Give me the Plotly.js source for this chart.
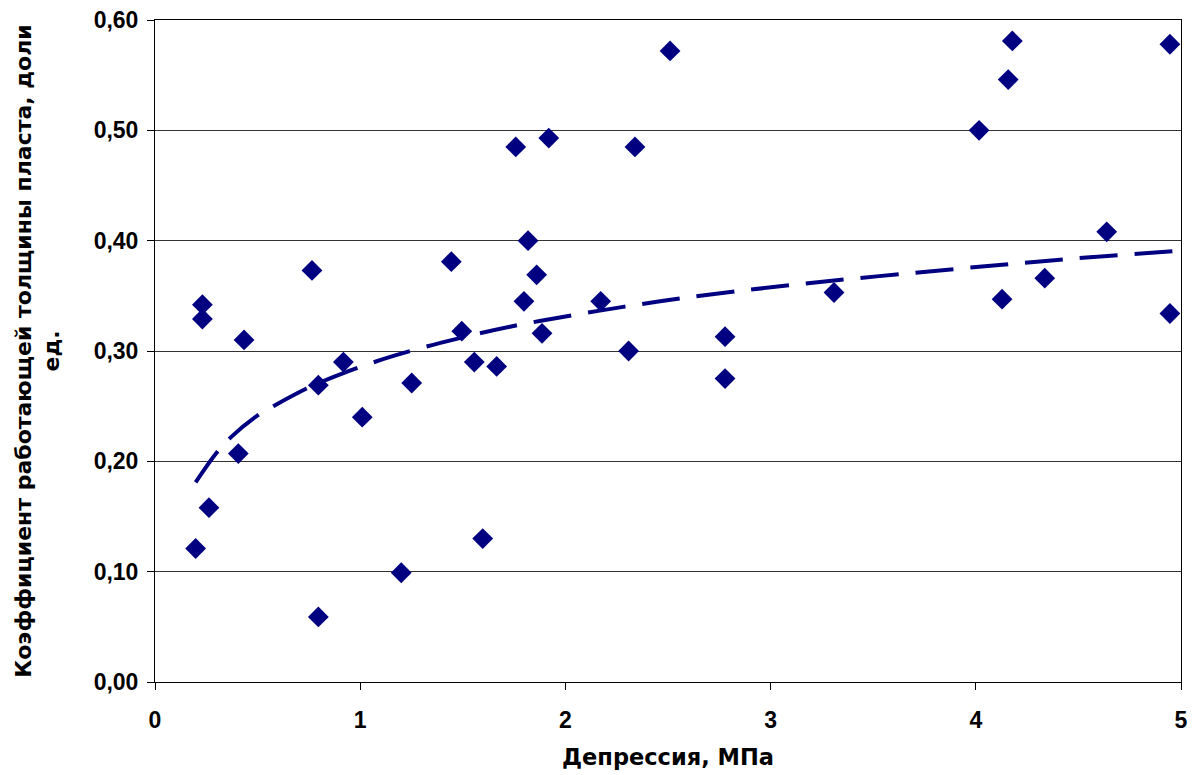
<!DOCTYPE html>
<html>
<head>
<meta charset="utf-8">
<script src="https://cdn.plot.ly/plotly-3.0.1.min.js"></script>
<style>html,body{margin:0;padding:0;background:#fff;}#chart{width:1194px;height:775px;}</style>
</head>
<body>
<div id="chart"></div>
<script>
// Depression, MPa
const depression = [0.198, 0.231, 0.231, 0.263, 0.434, 0.406, 0.765, 0.796, 0.796, 0.918,
  1.010, 1.200, 1.251, 1.444, 1.495, 1.556, 1.597, 1.665, 1.758, 1.798,
  1.818, 1.860, 1.886, 1.919, 2.172, 2.308, 2.339, 2.510, 2.778, 2.778,
  3.309, 4.016, 4.128, 4.158, 4.178, 4.336, 4.638, 4.946, 4.946];
// Coefficient of working reservoir thickness, fraction
const coefficient = [0.121, 0.342, 0.329, 0.158, 0.310, 0.207, 0.373, 0.269, 0.059, 0.290,
  0.240, 0.099, 0.271, 0.381, 0.318, 0.290, 0.130, 0.286, 0.485, 0.345,
  0.400, 0.369, 0.316, 0.493, 0.345, 0.300, 0.485, 0.572, 0.313, 0.275,
  0.353, 0.500, 0.347, 0.546, 0.581, 0.366, 0.408, 0.578, 0.334];
// Logarithmic trend line
const trendX = [0.198, 0.301, 0.365, 0.495, 0.577, 0.739, 0.918, 1.170, 1.470, 1.730,
  2.022, 2.282, 2.575, 3.111, 3.939, 4.492, 4.995];
const trendY = [0.181, 0.208, 0.221, 0.241, 0.250, 0.266, 0.280, 0.296, 0.311, 0.322,
  0.332, 0.340, 0.348, 0.360, 0.375, 0.384, 0.391];
const xTicks = [0, 1, 2, 3, 4, 5];
const yTicks = [0, 0.1, 0.2, 0.3, 0.4, 0.5, 0.6];

const navy = '#000080';
const tickFam = 'Liberation Sans, Arial, sans-serif';
const titleFam = 'DejaVu Sans, Liberation Sans, sans-serif';

const data = [
  {x: trendX, y: trendY, type: 'scatter', mode: 'lines',
   line: {color: navy, width: 4, dash: '38px,17px', shape: 'spline', smoothing: 1}, hoverinfo: 'skip'},
  {x: depression, y: coefficient, type: 'scatter', mode: 'markers',
   marker: {symbol: 'diamond', size: 16, color: navy, line: {width: 0}}}
];

const layout = {
  width: 1194, height: 775,
  margin: {l: 155, r: 13, t: 20, b: 93},
  paper_bgcolor: '#fff', plot_bgcolor: '#fff',
  showlegend: false,
  separators: ', ',
  font: {family: tickFam, color: '#000'},
  xaxis: {
    range: [0, 5], tickvals: xTicks, ticktext: xTicks.map(String),
    showgrid: false, zeroline: false,
    showline: true, linecolor: '#000', linewidth: 1, mirror: true,
    ticks: 'outside', ticklen: 7, tickcolor: '#000', ticklabelstandoff: 10,
    tickfont: {family: tickFam, size: 23, weight: 'bold', color: '#000'},
    title: {text: 'Депрессия, МПа', font: {family: titleFam, size: 22.5, weight: 'bold', color: '#000'}, standoff: 17}
  },
  yaxis: {
    range: [0, 0.6], tickvals: yTicks, tickformat: '.2f',
    showgrid: true, gridcolor: '#333', gridwidth: 1, zeroline: false,
    showline: true, linecolor: '#000', linewidth: 1, mirror: true,
    ticks: 'outside', ticklen: 7, tickcolor: '#000', ticklabelstandoff: 4,
    tickfont: {family: tickFam, size: 23, weight: 'bold', color: '#000'},
    title: {text: 'Коэффициент работающей толщины пласта, доли<br>ед.', font: {family: titleFam, size: 22, weight: 'bold', color: '#000'}, standoff: 27}
  }
};

Plotly.newPlot('chart', data, layout, {displayModeBar: false, staticPlot: true});
</script>
</body>
</html>
